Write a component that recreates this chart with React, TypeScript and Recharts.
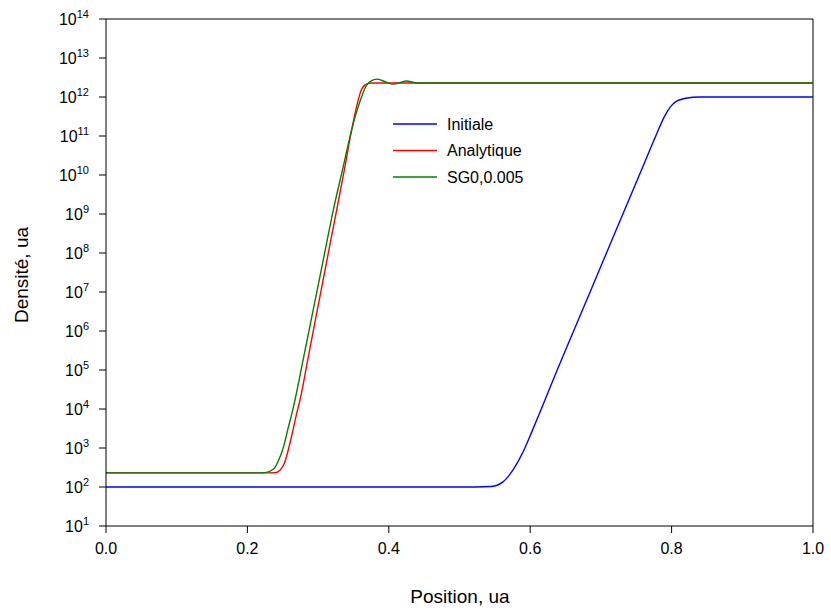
import React from 'react';
import { LineChart, Line, XAxis, YAxis, ReferenceLine } from 'recharts';

// Initiale
const initialeX = [0, 0.5, 0.545, 0.5615, 0.5757, 0.59, 0.6024, 0.615, 0.6382, 0.6614, 0.6847, 0.7079, 0.7311, 0.7544, 0.7776, 0.79, 0.798, 0.806, 0.82, 0.84, 1.0];
const initialeY = [100, 100, 103, 135, 275, 800, 2630, 9330, 1e5, 1e6, 1e7, 1e8, 1e9, 1e10, 1e11, 3.2e11, 5.5e11, 7.6e11, 9.3e11, 1e12, 1e12];

// Analytique
const analytiqueX = [0, 0.23, 0.239, 0.2461, 0.2522, 0.2578, 0.2635, 0.2697, 0.2744, 0.285, 0.3, 0.3262, 0.337, 0.3474, 0.355, 0.3615, 0.366, 0.371, 0.3757, 1.0];
const analytiqueY = [230, 230, 232, 269, 398, 891, 2400, 7760, 1.7e4, 1.7e5, 4.4e6, 1.26e9, 1.32e10, 1.41e11, 6.3e11, 1.58e12, 2.0e12, 2.24e12, 2.29e12, 2.29e12];

// SG0,0.005
const sgX = [0, 0.21, 0.2249, 0.2366, 0.2437, 0.2508, 0.2578, 0.2649, 0.2673, 0.28, 0.2935, 0.3075, 0.3215, 0.3345, 0.3474, 0.355, 0.3615, 0.367, 0.373, 0.383, 0.394, 0.406, 0.425, 0.44, 1.0];
const sgY = [230, 230, 234, 285, 465, 1020, 3320, 1.08e4, 1.7e4, 2.34e5, 3.8e6, 6.9e7, 1.26e9, 1.35e10, 1.41e11, 4.47e11, 1e12, 1.78e12, 2.45e12, 2.88e12, 2.5e12, 2.14e12, 2.57e12, 2.29e12, 2.29e12];

const xTicks = [0, 0.2, 0.4, 0.6, 0.8, 1.0];
const yTicks = [1e1, 1e2, 1e3, 1e4, 1e5, 1e6, 1e7, 1e8, 1e9, 1e10, 1e11, 1e12, 1e13, 1e14];

const series = [
    { name: 'Initiale', color: '#0000FF', data: initialeX.map((x, i) => ({ x, y: initialeY[i] })) },
    { name: 'Analytique', color: '#FF0000', data: analytiqueX.map((x, i) => ({ x, y: analytiqueY[i] })) },
    { name: 'SG0,0.005', color: '#008000', data: sgX.map((x, i) => ({ x, y: sgY[i] })) },
];

const FONT = '"Liberation Sans", Arial, sans-serif';

const YTick = ({ x, y, payload }: any) => {
    const exp = Math.round(Math.log10(payload.value));
    return (
        <text x={x} y={y} dy={6} textAnchor="end" fontFamily={FONT} fontSize={16} fill="#000">
            <tspan>10</tspan>
            <tspan dy={-7} fontSize={11}>{exp}</tspan>
        </text>
    );
};

const XTick = ({ x, y, payload }: any) => (
    <text x={x} y={y} dy={19} textAnchor="middle" fontFamily={FONT} fontSize={16} fill="#000">
        {payload.value.toFixed(1)}
    </text>
);

export default function App() {
    return (
        <div style={{ position: 'absolute', left: 0, top: 0, width: 831, height: 614, background: '#fff' }}>
            <LineChart width={831} height={614} margin={{ top: 19, right: 18, left: 0, bottom: 0 }}>
                <XAxis
                    type="number"
                    dataKey="x"
                    domain={[0, 1]}
                    ticks={xTicks}
                    tick={<XTick />}
                    tickSize={7}
                    height={88}
                    stroke="#000"
                    allowDuplicatedCategory={false}
                    label={{
                        content: () => (
                            <text x={460} y={603} textAnchor="middle" fontFamily={FONT} fontSize={19} fill="#000">
                                Position, ua
                            </text>
                        ),
                    }}
                />
                <YAxis
                    type="number"
                    scale="log"
                    domain={[1e1, 1e14]}
                    allowDataOverflow
                    ticks={yTicks}
                    tick={<YTick />}
                    tickSize={7}
                    tickMargin={10}
                    width={106}
                    stroke="#000"
                    interval={0}
                    label={{
                        content: () => (
                            <text
                                x={28}
                                y={275}
                                transform="rotate(-90 28 275)"
                                textAnchor="middle"
                                fontFamily={FONT}
                                fontSize={19}
                                fill="#000"
                            >
                                Densité, ua
                            </text>
                        ),
                    }}
                />
                <ReferenceLine y={1e14} stroke="#000" />
                <ReferenceLine x={1} stroke="#000" />
                {series.map((s) => (
                    <Line
                        key={s.name}
                        data={s.data}
                        dataKey="y"
                        name={s.name}
                        type="monotone"
                        stroke={s.color}
                        strokeWidth={1.4}
                        dot={false}
                        isAnimationActive={false}
                    />
                ))}
            </LineChart>
            {/* Legend */}
            <svg style={{ position: 'absolute', left: 0, top: 0 }} width={831} height={614} pointerEvents="none">
                {series.map((s, i) => (
                    <g key={s.name}>
                        <line x1={393} x2={437} y1={124 + i * 26.5} y2={124 + i * 26.5} stroke={s.color} strokeWidth={1.4} />
                        <text x={447} y={124 + i * 26.5} dy={5.5} fontFamily={FONT} fontSize={16} fill="#000">
                            {s.name}
                        </text>
                    </g>
                ))}
            </svg>
        </div>
    );
}
